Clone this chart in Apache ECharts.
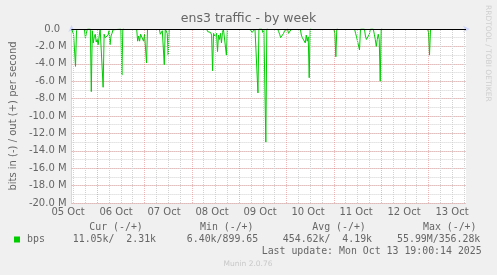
<!DOCTYPE html>
<html><head><meta charset="utf-8">
<script src="https://cdn.jsdelivr.net/npm/echarts@6/dist/echarts.min.js"></script>
<style>html,body{margin:0;padding:0;background:#f0f0f0}#c{width:497px;height:275px}</style>
</head><body><div id="c"></div>
<script>
// ---------- data ----------
const chartTitle = 'ens3 traffic - by week';
const yAxisTitle = 'bits in (-) / out (+) per second';
const dayLabels = ['05 Oct','06 Oct','07 Oct','08 Oct','09 Oct','10 Oct','11 Oct','12 Oct','13 Oct'];
// hours since 05 Oct 00:00; null values break the line (no data)
const hours = [
  11,12,12.5,13,13.5,14,14.5,
  17.5,18,18.5,19,20.5,21,21.5,22,22.5,23,23.5,24,24.5,25,25.5,26.5,27,27.5,28,28.5,29,29.5,30,30.5,31,31.5,32,32.5,36,36.5,37,37.5,38,
  44,44.5,45,45.5,46,46.5,47,47.5,48,48.5,49,49.5,50,
  55.5,56,56.5,57,57.5,58,58.5,59.5,60,60.5,61,
  79.5,80,80.5,81,81.5,82,82.5,83,83.5,84,84.5,85,85.5,86,86.5,87,87.5,88,89,89.5,90,90.5,
  101.5,102,102.5,103,103.5,104,105,105.5,106,107.5,108,108.5,109,109.5,110,110.5,111,
  115.5,116,116.5,117,117.5,118,118.5,119,119.5,120.5,121,121.5,122,122.5,123,
  127,127.5,128,128.5,129,129.5,130,130.5,131,131.5,132,132.5,133,
  144,144.5,145,145.5,146,146.5,
  154.5,155,155.5,156,156.5,157,157.5,159.5,160,160.5,161,161.5,162,162.5,164,164.5,165,165.5,166,166.5,167,167.5,168,168.5,169,
  191.5,192,192.5,193,193.5
];
// "in" traffic in Mbit/s (drawn negative)
const inMbps = [
  0,-0.6,-0.5,-4.3,-0.2,0,null,
  0,-1.0,-0.5,0,0,-7.2,-0.2,-1.6,-0.9,-0.6,-1.5,-1.2,-1.8,-0.8,0,0,-6.7,-0.6,-1.0,-1.2,-1.1,-0.7,-0.2,-1.8,-0.8,-0.5,-0.1,0,0,-5.3,0,0,null,
  0,-1.4,-0.8,-1.4,-0.6,-0.7,-0.5,-1.4,-0.6,-0.6,-3.9,0,null,
  0,-0.6,-0.8,-0.2,0,-4.1,0,-0.5,-3.0,0,null,
  0,-0.3,-0.5,-0.3,-0.4,-0.7,-4.8,-0.5,-0.8,-1.0,-0.5,-2.6,-0.7,-1.2,-0.5,-1.6,-0.4,0,0,-3.0,0,null,
  0,-0.2,-0.4,-0.5,-0.2,0,0,-7.35,0,0,-0.4,0,0,-13.0,0,0,null,
  0,-0.3,-0.6,-1.0,-1.1,-1.2,-0.5,-0.2,0,0,-0.5,-0.7,-0.4,0,null,
  0,-0.7,-1.0,-0.8,-1.2,-1.6,-0.7,-1.4,-0.9,-5.6,0,0,null,
  0,-0.5,-3.2,0,0,null,
  0,-0.5,-0.9,-1.4,-1.2,-2.4,0,0,-0.8,-1.2,-1.4,-1.3,-0.6,0,0,-0.6,-1.2,-2.0,-1.2,-0.6,-1.2,-6.0,0,0,null,
  0,-0.4,-3.0,0,null
];
const seriesName = 'bps';
const legendHeaders = ['Cur (-/+)','Min (-/+)','Avg (-/+)','Max (-/+)'];
const legendIn = ['11.05k','6.40k','454.62k','55.99M'];
const legendOut = ['2.31k','899.65','4.19k','356.28k'];
const lastUpdate = 'Last update: Mon Oct 13 19:00:14 2025';
const versionText = 'Munin 2.0.76';
const watermark = 'RRDTOOL / TOBI OETIKER';
const startHour = 11, endHour = 211;
const yMin = -20, yMax = 0;

// ---------- layout / style ----------
const PL = 66, PT = 29, PW = 400, PH = 174;
const pxh = PW / (endHour - startHour);
const FONT = 'DejaVu Sans', MONO = 'DejaVu Sans Mono';
const TXT = '#666666', AXIS = '#CFD6F8', GREEN = '#00cc00';
const GRAY = '#d2d2d2', RED = 'rgba(222,80,80,0.42)';
const gridGray = {color: GRAY, width: 1, type: [1, 1]};
const gridRed = {color: RED, width: 1, type: [1, 1]};
const headerX = [89.3, 200, 312.3, 423];
const slashEnd = [114.4, 222.5, 330.4, 438.7];

const chart = echarts.init(document.getElementById('c'), null, {renderer: 'canvas'});

const graphics = [];
legendHeaders.forEach((h, i) => graphics.push({type: 'text', x: headerX[i], y: 227.5,
  style: {text: h, font: '9.9px "' + MONO + '"', fill: TXT, verticalAlign: 'middle'}}));
legendIn.forEach((v, i) => {
  graphics.push({type: 'text', x: slashEnd[i], y: 239.5,
    style: {text: v + '/', font: '9.9px "' + MONO + '"', fill: TXT, align: 'right', verticalAlign: 'middle'}});
  let o = legendOut[i];
  if (/\d$/.test(o)) o += ' ';
  graphics.push({type: 'text', x: slashEnd[i], y: 239.5,
    style: {text: o.padStart(7), font: '9.9px "' + MONO + '"', fill: TXT, verticalAlign: 'middle'}});
});
graphics.push({type: 'text', x: 261.7, y: 251,
  style: {text: lastUpdate, font: '9.9px "' + MONO + '"', fill: TXT, verticalAlign: 'middle'}});
graphics.push({type: 'text', x: 248, y: 264.5,
  style: {text: versionText, font: '7.5px "' + FONT + '"', fill: '#c8c8c8', align: 'center', verticalAlign: 'middle'}});
graphics.push({type: 'text', x: 487.7, y: 53.3, rotation: -Math.PI / 2,
  style: {text: watermark, font: '7.5px "' + FONT + '"', fill: '#cfcfcf', align: 'center', verticalAlign: 'middle'}});

// vertical grid: every 6 hours, red at midnight
const minorStart = Math.ceil(startHour / 6) * 6;
const vLines = [];
for (let h = minorStart; h < endHour; h += 6) {
  vLines.push({xAxis: h, lineStyle: h % 24 === 0 ? gridRed : gridGray});
}

chart.setOption({
  animation: false,
  backgroundColor: '#f0f0f0',
  title: {text: chartTitle, left: 'center', top: 12, padding: 0,
    textStyle: {fontFamily: FONT, fontSize: 12.5, fontWeight: 'normal', color: TXT}},
  legend: {data: [seriesName], left: 14, top: 234.5, padding: 0, icon: 'rect', itemWidth: 6, itemHeight: 6,
    selectedMode: false,
    textStyle: {fontFamily: MONO, fontSize: 9.9, color: TXT, padding: [0, 0, 0, 2]}},
  graphic: graphics,
  grid: [
    {left: PL, top: PT, width: PW, height: PH, show: true, backgroundColor: '#ffffff', borderWidth: 0},
    {left: PL + (minorStart - startHour) * pxh, top: PT, width: (endHour - minorStart) * pxh, height: PH, show: false}
  ],
  xAxis: [
    {gridIndex: 0, type: 'value', min: startHour, max: endHour,
      axisLine: {show: true, lineStyle: {color: AXIS, width: 1}, symbol: ['none', 'arrow'], symbolSize: [5, 7], symbolOffset: [0, 4]},
      axisTick: {show: false}, axisLabel: {show: false}, splitLine: {show: false}},
    {gridIndex: 1, type: 'value', min: minorStart, max: endHour, interval: 6,
      axisLine: {show: false},
      axisTick: {show: false},
      axisLabel: {show: true, margin: 4.5, color: TXT, fontFamily: FONT, fontSize: 10,
        formatter: v => { const d = (v - 12) / 24; return Number.isInteger(d) && dayLabels[d] ? dayLabels[d] : ''; }},
      splitLine: {show: false}}
  ],
  yAxis: [
    {gridIndex: 0, type: 'value', min: yMin, max: yMax, interval: 1, position: 'left',
      name: yAxisTitle, nameLocation: 'middle', nameGap: 53,
      nameTextStyle: {fontFamily: FONT, fontSize: 10, color: TXT},
      axisLine: {show: true, lineStyle: {color: AXIS, width: 1}, symbol: ['none', 'arrow'], symbolSize: [5, 7], symbolOffset: [0, 4]},
      axisTick: {show: false},
      axisLabel: {margin: 5, color: TXT, fontFamily: FONT, fontSize: 10,
        formatter: v => (Math.abs(v) % 2 ? '' : (v === 0 ? '0.0  ' : v.toFixed(1) + ' M'))},
      splitLine: {show: true, lineStyle: gridGray}},
    {gridIndex: 0, type: 'value', min: yMin, max: yMax, interval: 2, position: 'right', z: 1,
      axisLine: {show: false}, axisLabel: {show: false}, axisTick: {show: false},
      splitLine: {show: true, lineStyle: gridRed}},
    {gridIndex: 1, type: 'value', min: yMin, max: yMax, show: false}
  ],
  series: [
    {type: 'line', name: 'grid', xAxisIndex: 0, yAxisIndex: 0, data: [], z: 1, silent: true,
      markLine: {silent: true, symbol: ['none', 'none'], label: {show: false}, animation: false,
        emphasis: {disabled: true}, data: vLines}},
    {type: 'line', name: 'zero', xAxisIndex: 0, yAxisIndex: 0, data: [], z: 2, silent: true,
      markLine: {silent: true, symbol: ['none', 'none'], label: {show: false}, animation: false,
        lineStyle: {color: '#000000', width: 1, type: 'solid'}, emphasis: {disabled: true},
        data: [{yAxis: 0}]}},
    {type: 'line', name: seriesName, xAxisIndex: 0, yAxisIndex: 0, z: 3,
      data: hours.map((h, i) => [h, inMbps[i]]),
      showSymbol: false, connectNulls: false,
      lineStyle: {color: GREEN, width: 1}, itemStyle: {color: GREEN},
      emphasis: {disabled: true}}
  ]
});
</script></body></html>
